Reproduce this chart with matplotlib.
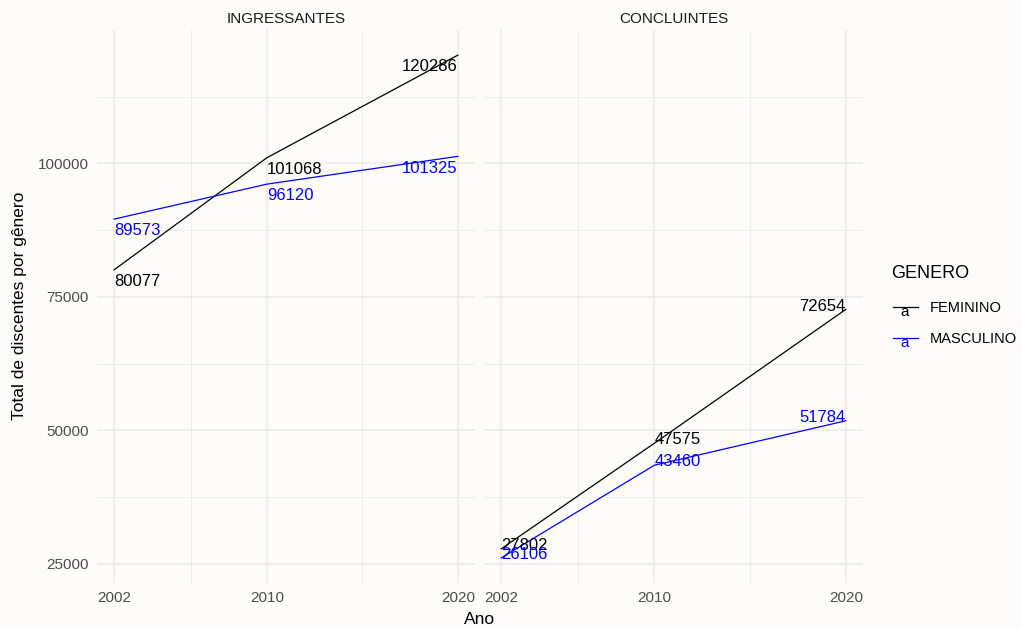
import matplotlib.pyplot as plt
from matplotlib.lines import Line2D

plt.rcParams['font.family'] = ['Liberation Sans', 'DejaVu Sans']

anos = [2002, 2010, 2020]
paineis = ['INGRESSANTES', 'CONCLUINTES']
generos = ['FEMININO', 'MASCULINO']
cores = {'FEMININO': 'black', 'MASCULINO': 'blue'}

ingressantes_fem = [80077, 101068, 120286]
ingressantes_masc = [89573, 96120, 101325]
concluintes_fem = [27802, 47575, 72654]
concluintes_masc = [26106, 43460, 51784]

dados = {
    'INGRESSANTES': {'FEMININO': ingressantes_fem, 'MASCULINO': ingressantes_masc},
    'CONCLUINTES': {'FEMININO': concluintes_fem, 'MASCULINO': concluintes_masc},
}

W, H = 1022, 630
bg = '#FDFCFB'
grid = '#EBEBEB'

fig = plt.figure(figsize=(W / 100, H / 100), dpi=100, facecolor=bg)

# scales shared between facets (like facet_wrap with fixed scales)
todos = ingressantes_fem + ingressantes_masc + concluintes_fem + concluintes_masc
ymin, ymax = min(todos), max(todos)
ypad = (ymax - ymin) * 0.05
xpad = (max(anos) - min(anos)) * 0.05
xlim = (min(anos) - xpad, max(anos) + xpad)
ylim = (ymin - ypad, ymax + ypad)

panel_x = [(97, 475), (484, 863)]
top, bottom = 30, 583

for (x0, x1), painel in zip(panel_x, paineis):
    ax = fig.add_axes([x0 / W, 1 - bottom / H, (x1 - x0) / W, (bottom - top) / H])
    ax.set_facecolor(bg)
    ax.set_xlim(xlim)
    ax.set_ylim(ylim)
    for s in ax.spines.values():
        s.set_visible(False)
    ax.set_xticks([2002, 2010, 2020])
    ax.set_xticks([2006, 2015], minor=True)
    ax.set_yticks([25000, 50000, 75000, 100000])
    ax.set_yticks([37500, 62500, 87500, 112500], minor=True)
    ax.grid(True, which='major', color=grid, lw=1.1)
    ax.grid(True, which='minor', color=grid, lw=0.6)
    ax.set_axisbelow(True)
    ax.tick_params(which='both', length=0, labelsize=11, colors='#4D4D4D', pad=6)
    if painel != paineis[0]:
        ax.tick_params(axis='y', labelleft=False)
    ax.set_title(painel, fontsize=11, color='#1A1A1A', pad=5)

    for g in generos:
        ys = dados[painel][g]
        ax.plot(anos, ys, color=cores[g], lw=0.9)
        for x, y in zip(anos, ys):
            # hjust / vjust "inward"
            rx = (x - xlim[0]) / (xlim[1] - xlim[0])
            ry = (y - ylim[0]) / (ylim[1] - ylim[0])
            ha = 'left' if rx < 0.5 else 'right'
            va = 'bottom' if ry < 0.5 else 'top'
            ax.annotate(str(y), (x, y), xytext=(0, -3), textcoords='offset points',
                        color=cores[g], fontsize=12, ha=ha, va=va)

fig.text(480 / W, 1 - 620 / H, 'Ano', fontsize=12.5, ha='center', va='center')
fig.text(20 / W, 1 - 306 / H, 'Total de discentes por gênero', fontsize=12.5,
         rotation=90, ha='center', va='center')

# legend
fig.text(891 / W, 1 - 273 / H, 'GENERO', fontsize=13, ha='left', va='center')
for i, g in enumerate(generos):
    yc = 308 + i * 31
    fig.add_artist(Line2D([893 / W, 918 / W], [1 - (yc - 1) / H] * 2,
                          color=cores[g], lw=0.9))
    fig.text(905 / W, 1 - (yc + 4) / H, 'a', color=cores[g], fontsize=11,
             ha='center', va='center')
    fig.text(930 / W, 1 - yc / H, g, fontsize=10.5, ha='left', va='center')

fig.savefig('out.png', dpi=100, facecolor=bg)
